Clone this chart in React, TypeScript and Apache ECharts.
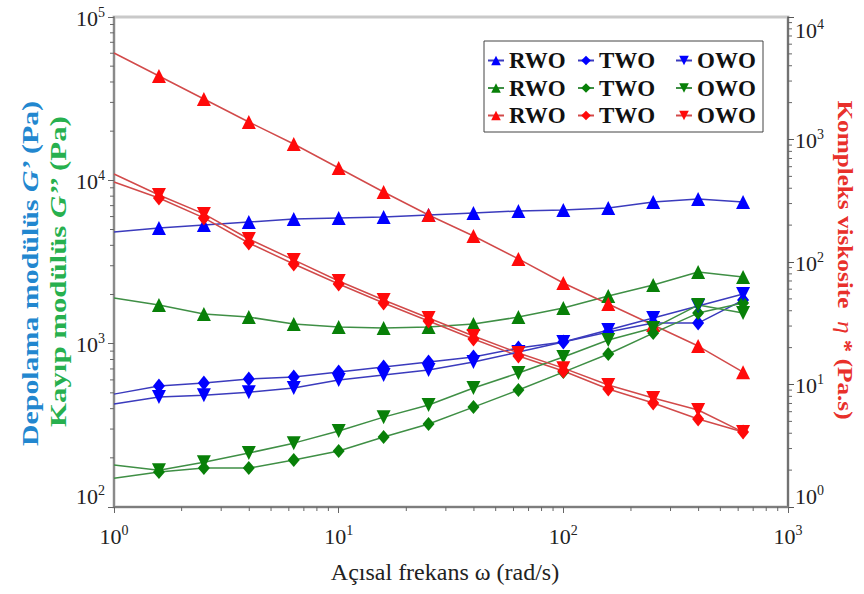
import React, { useEffect, useRef } from 'react';
import * as echarts from 'echarts';

// Angular frequency ω (rad/s)
const freq = [1, 1.585, 2.512, 3.981, 6.31, 10, 15.85, 25.12, 39.81, 63.1, 100, 158.5, 251.2, 398.1, 631];

// Storage modulus G' (Pa)
const gStorRWO = [4820, 5100, 5330, 5560, 5790, 5880, 5960, 6130, 6310, 6490, 6580, 6770, 7360, 7690, 7360];
const gStorTWO = [491, 550, 574, 607, 624, 670, 719, 772, 828, 940, 1023, 1178, 1337, 1337, 1849];
const gStorOWO = [427, 471, 484, 505, 535, 599, 642, 689, 772, 888, 1023, 1211, 1435, 1699, 2012];

// Loss modulus G'' (Pa)
const gLossRWO = [1902, 1723, 1518, 1455, 1318, 1264, 1246, 1264, 1318, 1455, 1652, 1957, 2285, 2745, 2557];
const gLossTWO = [150, 164, 173, 173, 194, 220, 268, 322, 409, 520, 670, 864, 1161, 1539, 1773];
const gLossOWO = [181, 168, 188, 214, 246, 292, 355, 421, 535, 661, 828, 1052, 1246, 1723, 1539];

// Complex viscosity η* (Pa.s)
const etaRWO = [5080, 3300, 2140, 1390, 919, 585, 373, 242, 163, 106, 67.4, 45.4, 30.6, 20.6, 12.6];
const etaTWO = [450, 333, 229, 143, 96.3, 66.1, 46.3, 33.0, 23.5, 17.1, 12.9, 9.19, 7.06, 5.23, 4.09];
const etaOWO = [523, 352, 247, 154, 104, 70.0, 49.0, 34.9, 24.9, 18.1, 13.6, 9.9, 7.76, 6.19, 4.09];

// Minor tick positions on the logarithmic axes
const xMinor = [2, 3, 4, 5, 6, 7, 8, 9, 20, 30, 40, 50, 60, 70, 80, 90, 200, 300, 400, 500, 600, 700, 800, 900];
const yLeftMinor = [200, 300, 400, 500, 600, 700, 800, 900, 2000, 3000, 4000, 5000, 6000, 7000, 8000, 9000,
  20000, 30000, 40000, 50000, 60000, 70000, 80000, 90000];
const yRightMinor = [2, 3, 4, 5, 6, 7, 8, 9, 20, 30, 40, 50, 60, 70, 80, 90, 200, 300, 400, 500, 600, 700, 800, 900,
  2000, 3000, 4000, 5000, 6000, 7000, 8000, 9000];

const SERIF = 'Liberation Serif, serif';
const TRI_DOWN = 'path://M0,0L2,0L1,1.8Z';

const BLUE = { mark: '#0000ff', line: '#3b3bbd' };
const GREEN = { mark: '#088008', line: '#3f8f45' };
const RED = { mark: '#ff0a0a', line: '#d24a4a' };

function lineSeries(
  name: string,
  values: number[],
  col: { mark: string; line: string },
  symbol: string,
  size: number | number[],
  yAxisIndex: number
) {
  return {
    type: 'line',
    name,
    yAxisIndex,
    data: values.map((v, i) => (i === 0 ? { value: [freq[i], v], symbol: 'none' } : [freq[i], v])),
    symbol,
    symbolSize: size,
    showSymbol: true,
    itemStyle: { color: col.mark },
    lineStyle: { color: col.line, width: 1.5 },
    emphasis: { disabled: true },
  };
}

function tickSeries(values: number[], kind: 'x' | 'yl' | 'yr') {
  return {
    type: 'custom',
    silent: true,
    yAxisIndex: kind === 'yr' ? 1 : 0,
    data: values.map((v) => (kind === 'x' ? [v, 100] : kind === 'yl' ? [1, v] : [1000, v])),
    renderItem: (_p: any, api: any) => {
      const pt = api.coord([api.value(0), api.value(1)]);
      let shape;
      if (kind === 'x') shape = { x1: pt[0], y1: pt[1], x2: pt[0], y2: pt[1] + 4 };
      else if (kind === 'yl') shape = { x1: pt[0] - 4, y1: pt[1], x2: pt[0], y2: pt[1] };
      else shape = { x1: pt[0], y1: pt[1], x2: pt[0] + 4, y2: pt[1] };
      return { type: 'line', shape, style: { stroke: '#666', lineWidth: 1 } };
    },
    z: 1,
  };
}

const powLabel = (v: number) => `{b|10}{s|${Math.round(Math.log10(v))}}`;
const powRich = {
  b: { fontFamily: SERIF, fontSize: 22, color: '#222', lineHeight: 24, verticalAlign: 'bottom' },
  s: { fontFamily: SERIF, fontSize: 14, color: '#222', lineHeight: 24, verticalAlign: 'top' },
};

export default function App() {
  const ref = useRef<HTMLDivElement>(null);

  useEffect(() => {
    if (!ref.current) return;
    const chart = echarts.init(ref.current, undefined, { renderer: 'svg' });

    const legendText = { fontFamily: SERIF, fontSize: 23, fontWeight: 'bold', color: '#111', lineHeight: 22 };
    const legendBase = {
      orient: 'vertical',
      top: 49,
      itemWidth: 16,
      itemHeight: 12,
      itemGap: 4.5,
      padding: 0,
      selectedMode: false,
      textStyle: legendText,
      formatter: (n: string) => n.split(' ').pop(),
    };

    const option: any = {
      animation: false,
      backgroundColor: '#ffffff',
      grid: {
        left: 114,
        right: 76,
        top: 17,
        bottom: 87,
        show: true,
        borderColor: '#c9c9c9',
        borderWidth: 3,
        backgroundColor: 'transparent',
      },
      legend: [
        { ...legendBase, left: 487, data: ["G' RWO", "G'' RWO", 'η* RWO'] },
        { ...legendBase, left: 577, data: ["G' TWO", "G'' TWO", 'η* TWO'] },
        { ...legendBase, left: 675, data: ["G' OWO", "G'' OWO", 'η* OWO'] },
      ],
      xAxis: {
        type: 'log',
        logBase: 10,
        min: 1,
        max: 1000,
        axisLine: { show: true, lineStyle: { color: '#7d7d7d', width: 2 } },
        axisTick: { show: true, inside: false, length: 6, lineStyle: { color: '#666' } },
        splitLine: { show: false },
        minorTick: { show: false },
        axisLabel: { margin: 16, formatter: powLabel, rich: powRich },
      },
      yAxis: [
        {
          type: 'log',
          logBase: 10,
          min: 100,
          max: 100000,
          position: 'left',
          axisLine: { show: true, lineStyle: { color: '#8a8a8a', width: 2 } },
          axisTick: { show: true, inside: false, length: 6, lineStyle: { color: '#666' } },
          splitLine: { show: false },
          axisLabel: {
            margin: 9,
            formatter: powLabel,
            rich: powRich,
            verticalAlignMinLabel: 'bottom',
          },
        },
        {
          type: 'log',
          logBase: 10,
          min: 1,
          max: 10000,
          position: 'right',
          axisLine: { show: true, lineStyle: { color: '#555', width: 1.5 } },
          axisTick: { show: true, inside: false, length: 6, lineStyle: { color: '#555' } },
          splitLine: { show: false },
          axisLabel: {
            margin: 7,
            formatter: powLabel,
            rich: powRich,
            verticalAlignMinLabel: 'bottom',
            verticalAlignMaxLabel: 'top',
          },
        },
      ],
      graphic: [
        {
          type: 'rect',
          shape: { x: 484, y: 41, width: 279, height: 91 },
          style: { fill: 'transparent', stroke: '#444', lineWidth: 1 },
          z: 10,
          silent: true,
        },
        {
          type: 'text',
          x: 30,
          y: 273,
          rotation: Math.PI / 2,
          scaleX: 1.3,
          silent: true,
          style: {
            text: '{n|Depolama modülüs }{i|G}{n|’ (Pa)}',
            align: 'center',
            verticalAlign: 'middle',
            rich: {
              n: { font: 'bold 23px Liberation Serif, serif', fill: '#2287cf' },
              i: { font: 'italic bold 23px Liberation Serif, serif', fill: '#2287cf' },
            },
          },
        },
        {
          type: 'text',
          x: 58,
          y: 271,
          rotation: Math.PI / 2,
          scaleX: 1.34,
          silent: true,
          style: {
            text: '{n|Kayıp modülüs }{i|G}{n|’’ (Pa)}',
            align: 'center',
            verticalAlign: 'middle',
            rich: {
              n: { font: 'bold 23px Liberation Serif, serif', fill: '#27b04e' },
              i: { font: 'italic bold 23px Liberation Serif, serif', fill: '#27b04e' },
            },
          },
        },
        {
          type: 'text',
          x: 845,
          y: 260,
          rotation: -Math.PI / 2,
          scaleX: 1.2,
          silent: true,
          style: {
            text: '{n|Kompleks viskosite  }{i|η}{n| * (Pa.s)}',
            align: 'center',
            verticalAlign: 'middle',
            rich: {
              n: { font: 'bold 21px Liberation Serif, serif', fill: '#e8302b' },
              i: { font: 'italic 21px Liberation Serif, serif', fill: '#e8302b' },
            },
          },
        },
        {
          type: 'text',
          x: 445,
          y: 572,
          silent: true,
          style: {
            text: 'Açısal frekans ω (rad/s)',
            font: '24px Liberation Serif, serif',
            fill: '#222',
            align: 'center',
            verticalAlign: 'middle',
          },
        },
      ],
      series: [
        lineSeries("G' RWO", gStorRWO, BLUE, 'triangle', 14, 0),
        lineSeries("G'' RWO", gLossRWO, GREEN, 'triangle', 14, 0),
        lineSeries('η* RWO', etaRWO, RED, 'triangle', 14, 1),
        lineSeries("G' TWO", gStorTWO, BLUE, 'diamond', [12, 15], 0),
        lineSeries("G'' TWO", gLossTWO, GREEN, 'diamond', [12, 14], 0),
        lineSeries('η* TWO', etaTWO, RED, 'diamond', [12, 15], 1),
        lineSeries("G' OWO", gStorOWO, BLUE, TRI_DOWN, 14, 0),
        lineSeries("G'' OWO", gLossOWO, GREEN, TRI_DOWN, 14, 0),
        lineSeries('η* OWO', etaOWO, RED, TRI_DOWN, 14, 1),
        tickSeries(xMinor, 'x'),
        tickSeries(yLeftMinor, 'yl'),
        tickSeries(yRightMinor, 'yr'),
      ],
    };

    chart.setOption(option);
    return () => chart.dispose();
  }, []);

  return <div ref={ref} style={{ position: 'fixed', left: 0, top: 0, width: 864, height: 594 }} />;
}
